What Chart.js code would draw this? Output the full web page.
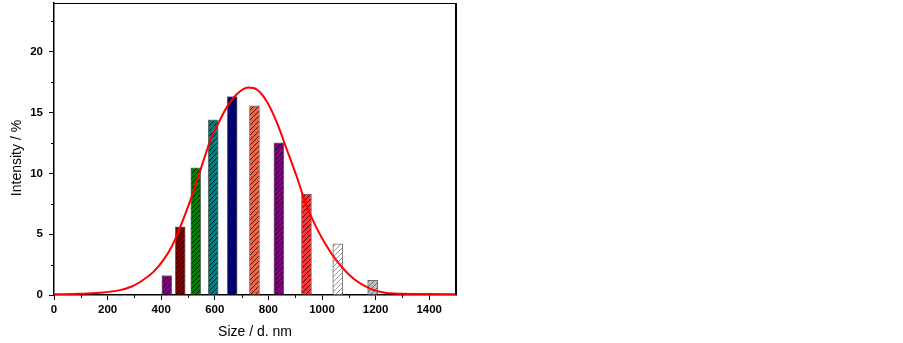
<!DOCTYPE html>
<html>
<head>
<meta charset="utf-8">
<script src="https://cdn.jsdelivr.net/npm/chart.js@4"></script>
<style>
  body { margin: 0; background: #fff; }
  #wrap { width: 903px; height: 343px; position: relative; }
</style>
</head>
<body>
<div id="wrap"><canvas id="sizeChart"></canvas></div>
<script>
// size distribution bars (d. nm / intensity %)
const barSizes = [421, 471, 529, 594, 665, 748, 839, 942, 1059, 1189];
const barIntensity = [1.6, 5.6, 10.45, 14.4, 16.3, 15.55, 12.5, 8.3, 4.2, 1.2];
const barFills = ['#800080', '#800000', '#008000', '#008080', '#000080', '#F26446', '#800080', '#FF3333', '#FFFFFF', '#C0C0C0'];
const barHatch = ['#000', '#000', '#000', '#000', '#000', '#000', '#000', '#000', '#777', '#444'];

// fitted curve
const curveSizes = [0, 100, 170, 246, 290, 321, 371, 408, 439, 464, 489, 514, 538, 563, 588, 613, 644, 682, 725, 756, 794, 831, 868, 906, 943, 980, 1018, 1055, 1117, 1179, 1230, 1300, 1400, 1500];
const curveIntensity = [0.06, 0.1, 0.18, 0.4, 0.7, 1.07, 1.9, 2.86, 3.96, 5.2, 6.6, 8.1, 9.7, 11.4, 13.0, 14.1, 15.4, 16.5, 17.05, 16.9, 15.9, 14.2, 12.0, 9.7, 7.3, 5.5, 4.0, 2.8, 1.35, 0.53, 0.2, 0.1, 0.08, 0.07];

const xTicks = [0, 200, 400, 600, 800, 1000, 1200, 1400];
const yTicks = [0, 5, 10, 15, 20];
const yTitle = 'Intensity / %';

function hatch(fill, lineColor) {
    const c = document.createElement('canvas');
    c.width = 5; c.height = 5;
    const g = c.getContext('2d');
    g.fillStyle = fill;
    g.fillRect(0, 0, 5, 5);
    g.strokeStyle = lineColor;
    g.globalAlpha = 0.75;
    g.lineWidth = 1;
    g.beginPath();
    g.moveTo(-1, 6); g.lineTo(6, -1);
    g.moveTo(-1, 1); g.lineTo(1, -1);
    g.moveTo(4, 6); g.lineTo(6, 4);
    g.stroke();
    return g.createPattern(c, 'repeat');
}

const tickFont = { family: 'Liberation Sans, Arial, sans-serif', size: 11.5, weight: 'bold' };
const titleFont = { family: 'Liberation Sans, Arial, sans-serif', size: 14 };

// frame on top/right, short minor ticks, y title sits a bit low in the original
const framePlugin = {
    id: 'frame',
    afterDraw(chart) {
        const { ctx, chartArea: a, scales } = chart;
        ctx.save();
        ctx.strokeStyle = '#000';
        ctx.lineWidth = 1;
        ctx.beginPath();
        ctx.moveTo(a.left, a.top + 0.5); ctx.lineTo(a.right, a.top + 0.5);
        ctx.stroke();
        ctx.lineWidth = 2;
        ctx.beginPath();
        ctx.moveTo(a.right, a.top); ctx.lineTo(a.right, a.bottom);
        ctx.stroke();
        ctx.lineWidth = 1;
        ctx.beginPath();
        for (let v = 100; v < 1500; v += 200) {
            const px = Math.round(scales.x.getPixelForValue(v)) + 0.5;
            ctx.moveTo(px, a.bottom); ctx.lineTo(px, a.bottom + 3);
        }
        for (let v = 2.5; v < 24; v += 5) {
            const py = Math.round(scales.y.getPixelForValue(v)) + 0.5;
            ctx.moveTo(a.left, py); ctx.lineTo(a.left - 3, py);
        }
        ctx.stroke();

        ctx.translate(17, (a.top + a.bottom) / 2 + 9);
        ctx.rotate(-Math.PI / 2);
        ctx.fillStyle = '#000';
        ctx.font = `${titleFont.size}px ${titleFont.family}`;
        ctx.textAlign = 'center';
        ctx.textBaseline = 'middle';
        ctx.fillText(yTitle, 0, 0);
        ctx.restore();
    }
};

const ctx = document.getElementById('sizeChart').getContext('2d');
new Chart(ctx, {
    type: 'bar',
    data: {
        datasets: [{
            type: 'line',
            data: curveSizes.map((s, i) => ({ x: s, y: curveIntensity[i] })),
            borderColor: '#FF0000',
            borderWidth: 2,
            pointRadius: 0,
            cubicInterpolationMode: 'monotone',
            order: 0
        }, {
            type: 'bar',
            data: barSizes.map((s, i) => ({ x: s, y: barIntensity[i] })),
            backgroundColor: barFills.map((c, i) => hatch(c, barHatch[i])),
            borderColor: '#707070',
            borderWidth: 1,
            barThickness: 10,
            order: 1
        }]
    },
    options: {
        responsive: true,
        maintainAspectRatio: false,
        animation: false,
        layout: { padding: { top: 3, right: 447, bottom: 0, left: 0 } },
        plugins: { legend: { display: false }, tooltip: { enabled: false } },
        scales: {
            x: {
                type: 'linear',
                min: 0,
                max: 1500,
                offset: false,
                afterFit: s => { s.height = 48; s.paddingLeft = 0; s.paddingRight = 0; },
                afterBuildTicks: s => { s.ticks = xTicks.map(v => ({ value: v })); },
                grid: { offset: false, drawOnChartArea: false, tickLength: 5, tickColor: '#000', tickWidth: 1 },
                border: { color: '#000', width: 1.5 },
                ticks: { color: '#000', font: tickFont, padding: 3, maxRotation: 0, callback: v => String(v) },
                title: { display: true, text: 'Size / d. nm', color: '#000', font: titleFont, padding: { top: 0, bottom: 2 } }
            },
            y: {
                min: 0,
                max: 24,
                afterFit: s => { s.width = 54; s.paddingTop = 0; s.paddingBottom = 0; },
                afterBuildTicks: s => { s.ticks = yTicks.map(v => ({ value: v })); },
                grid: { drawOnChartArea: false, tickLength: 5, tickColor: '#000', tickWidth: 1 },
                border: { color: '#000', width: 1.5 },
                ticks: { color: '#000', font: tickFont, padding: 6, callback: v => String(v) }
            }
        }
    },
    plugins: [framePlugin]
});
</script>
</body>
</html>
